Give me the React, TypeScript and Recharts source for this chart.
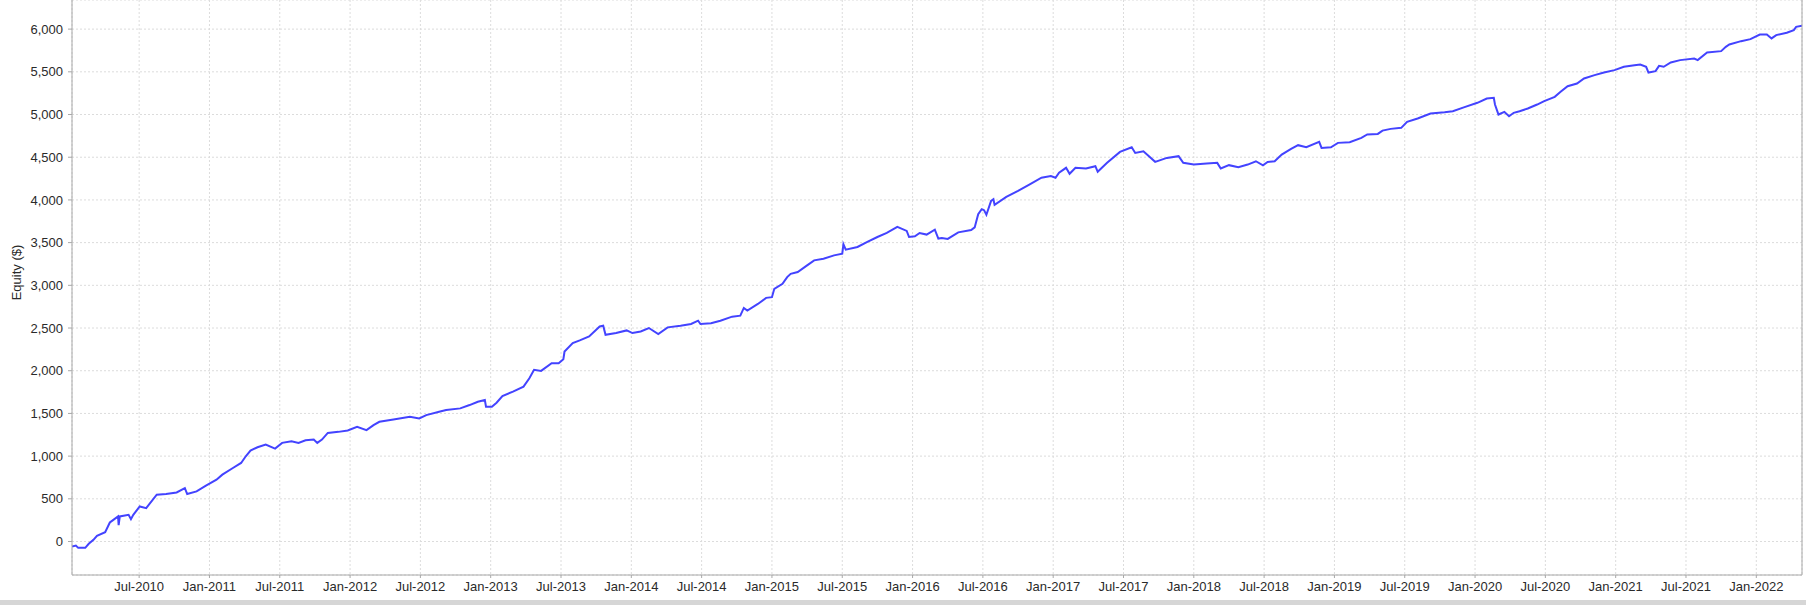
import React from 'react';
import {
  LineChart,
  Line,
  XAxis,
  YAxis,
  CartesianGrid,
  Label,
} from 'recharts';

// months since Jan-2010 (fractional) and account equity in $
const months = [
  0.27, 0.6, 0.8, 1.4, 1.7, 2.1, 2.4, 3.1, 3.5, 3.8, 4.2, 4.25, 4.35, 5.1, 5.3, 5.5, 6.05, 6.6, 7.5, 8.3,
  9.2, 9.9, 10.1, 10.9, 11.7, 12.6, 13.1, 14.0, 14.7, 15.1, 15.5, 16.1, 16.8, 17.6, 18.2, 19.0, 19.6, 20.2,
  20.9, 21.2, 21.6, 22.1, 23.0, 23.8, 24.6,
  25.4, 26.0, 26.5, 27.7, 29.1, 29.9, 30.5, 31.6, 32.2, 33.4, 34.2, 34.9, 35.5, 35.6, 36.1, 36.5, 37.0,
  37.9, 38.8, 39.3, 39.7, 40.3, 41.2, 41.8, 42.2, 42.3, 43.0, 43.6, 44.4, 45.3, 45.6, 45.8, 46.7, 47.6,
  48.1, 48.8, 49.5,
  50.3, 51.1, 52.2, 53.1, 53.7, 53.9, 54.8, 55.6, 56.6, 57.3, 57.6, 57.9, 58.8, 59.5, 60.0, 60.2, 60.9,
  61.3, 61.6, 62.2, 63.0, 63.6, 64.4, 65.3, 66.0, 66.1, 66.3, 67.3, 68.1, 69.0, 69.8, 70.7, 71.5, 71.7,
  72.2, 72.6, 73.2, 73.9, 74.2,
  74.5, 75.0, 75.9, 77.0, 77.3, 77.6, 77.9, 78.1, 78.3, 78.7, 78.9, 79.0, 80.0, 81.0, 82.0, 83.0, 83.8,
  84.2, 84.5, 85.1, 85.4, 85.9, 86.8, 87.6, 87.8, 88.6, 89.7, 90.7, 91.0, 91.7, 92.7, 93.7, 94.7, 95.1,
  96.0, 97.1, 98.0, 98.3, 99.0,
  99.8, 100.6, 101.3, 101.9, 102.3, 102.9, 103.5, 104.3, 104.9, 105.6, 106.7, 106.9, 107.7, 108.3, 109.3,
  110.3, 110.8, 111.7, 112.1, 112.8, 113.7, 114.2, 115.1, 116.2, 117.4, 118.1, 119.1, 120.2, 121.0, 121.6,
  121.7, 122.0, 122.5, 122.9, 123.3, 123.8, 124.5,
  125.3, 125.9, 126.8, 127.3, 127.9, 128.7, 129.3, 130.2, 131.0, 131.9, 132.7, 133.6, 134.1, 134.6, 134.8,
  135.4, 135.7, 136.1, 136.7, 137.5, 138.7, 139.0, 139.8, 141.0, 141.4, 141.7, 142.7, 143.5, 144.3, 144.9,
  145.3, 145.7, 146.6, 147.2, 147.4, 147.9,
];

const equity = [
  -59, -47, -74, -74, -27, 20, 67, 110, 223, 254, 294, 192, 294, 313, 262, 313, 411, 391, 548, 556,
  575, 626, 556, 587, 654, 724, 783, 861, 920, 998, 1065, 1104, 1135, 1088, 1155, 1174, 1155, 1186,
  1194, 1155, 1194, 1272, 1284, 1300, 1343,
  1304, 1363, 1402, 1429, 1461, 1441, 1480, 1520, 1539, 1559, 1598, 1637, 1657, 1578, 1578, 1625, 1704,
  1755, 1814, 1912, 2010, 1998, 2088, 2088, 2135, 2225, 2323, 2355, 2402, 2519, 2527, 2421, 2441, 2472,
  2441, 2460, 2500,
  2429, 2508, 2527, 2547, 2586, 2547, 2555, 2586, 2633, 2645, 2735, 2704, 2782, 2853, 2861, 2959, 3017,
  3096, 3135, 3155, 3233, 3292, 3311, 3351, 3370, 3480, 3417, 3449, 3507, 3566, 3613, 3684, 3637, 3566,
  3574, 3613, 3594, 3652, 3547,
  3554, 3543, 3620, 3647, 3678, 3833, 3891, 3880, 3826, 3988, 4008, 3942, 4035, 4105, 4182, 4260, 4279,
  4260, 4318, 4376, 4306, 4376, 4368, 4395, 4329, 4434, 4562, 4616, 4550, 4570, 4446, 4492, 4512, 4434,
  4415, 4426, 4434, 4368, 4407,
  4383, 4414, 4453, 4406, 4445, 4453, 4531, 4598, 4641, 4617, 4680, 4609, 4617, 4668, 4676,
  4727, 4766, 4773, 4812, 4832, 4844, 4914, 4953, 5012, 5027, 5039, 5086, 5137, 5187, 5195,
  5117, 5000, 5031, 4980, 5020, 5039, 5070,
  5117, 5156, 5207, 5266, 5332, 5363, 5422, 5461, 5492, 5520, 5559, 5578, 5586, 5559, 5492,
  5508, 5570, 5559, 5609, 5637, 5656, 5637, 5727, 5742, 5793, 5820, 5859, 5883, 5937, 5937,
  5891, 5930, 5957, 5988, 6027, 6039,
];

// Jul-2010 .. Jan-2022, every six months
const xTicks = [
  6, 12, 18, 24, 30, 36, 42, 48, 54, 60, 66, 72, 78, 84, 90, 96, 102, 108, 114, 120, 126, 132, 138, 144,
];
const yTicks = [0, 500, 1000, 1500, 2000, 2500, 3000, 3500, 4000, 4500, 5000, 5500, 6000];

const data = months.map((m, i) => ({ m, equity: equity[i] }));

const fmtMonth = (m: number) => {
  const year = 2010 + Math.floor(m / 12);
  return (m % 12 === 6 ? 'Jul' : 'Jan') + '-' + year;
};

const fmtMoney = (v: number) => v.toLocaleString('en-US');

const axisGray = '#a8a8a8';
const tickStyle = { fontSize: 13, fill: '#2a2a2a', fontFamily: '"Liberation Sans", Arial, sans-serif' };

export default function App() {
  return (
    <div style={{ position: 'absolute', left: 0, top: 0, width: 1806, height: 605, background: '#fff' }}>
      <LineChart
        width={1806}
        height={600}
        data={data}
        margin={{ top: 0, right: 0, left: 0, bottom: 0 }}
      >
        <CartesianGrid stroke="#dcdcdc" strokeDasharray="2 2" />
        <XAxis
          dataKey="m"
          type="number"
          domain={[0.27, 147.9]}
          ticks={xTicks}
          tickFormatter={fmtMonth}
          height={25}
          tickSize={3}
          tickMargin={4}
          tick={tickStyle}
          stroke={axisGray}
          allowDataOverflow
        />
        <YAxis
          domain={[-392, 6341]}
          ticks={yTicks}
          tickFormatter={fmtMoney}
          width={72}
          tickSize={4}
          tickMargin={5}
          tick={tickStyle}
          stroke={axisGray}
          allowDataOverflow
        >
          <Label
            content={({ viewBox }: any) => {
              const cx = viewBox.x + 16;
              const cy = viewBox.y + viewBox.height / 2 - 15;
              return (
                <text
                  x={cx}
                  y={cy}
                  transform={`rotate(-90 ${cx} ${cy})`}
                  textAnchor="middle"
                  dominantBaseline="central"
                  style={tickStyle}
                >
                  Equity ($)
                </text>
              );
            }}
          />
        </YAxis>
        <YAxis
          yAxisId="right"
          orientation="right"
          domain={[-392, 6341]}
          width={4}
          tick={false}
          tickLine={false}
          stroke={axisGray}
        />
        <Line
          type="linear"
          dataKey="equity"
          stroke="#4343ff"
          strokeWidth={2}
          dot={false}
          isAnimationActive={false}
        />
      </LineChart>
      <div style={{ position: 'absolute', left: 0, top: 600, width: 1806, height: 5, background: '#d6d6d6' }} />
    </div>
  );
}
